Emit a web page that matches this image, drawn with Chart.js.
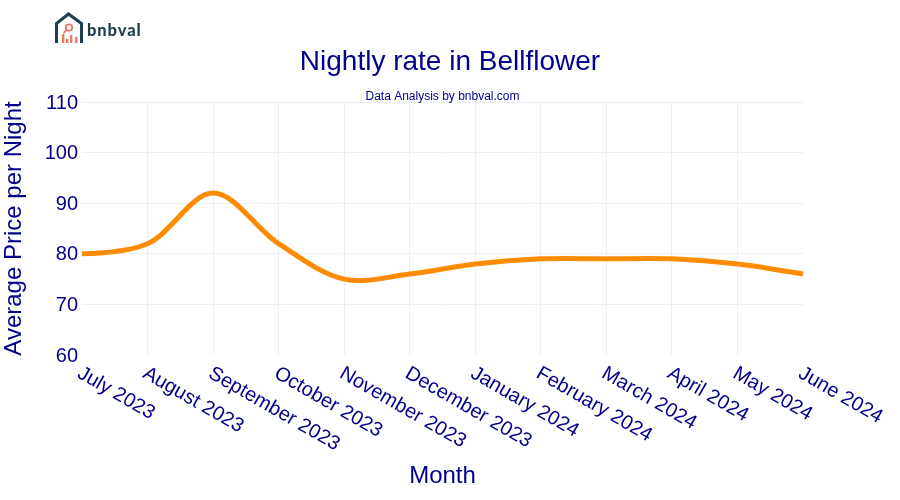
<!DOCTYPE html>
<html>
<head>
<meta charset="utf-8">
<script src="https://cdn.jsdelivr.net/npm/chart.js@4"></script>
<style>
    html, body { margin: 0; padding: 0; background: #fff; }
    #wrap { position: relative; width: 900px; height: 500px; }
    #logo { position: absolute; left: 53px; top: 12px; }
</style>
</head>
<body>
<div id="wrap">
    <canvas id="chartRate" width="900" height="500"></canvas>
    <svg id="logo" width="92" height="34" viewBox="0 0 92 34">
        <path d="M3.5 31 V11.5 L15.5 2 L28.5 11.5 V31" fill="none" stroke="#1f3f50" stroke-width="3"/>
        <circle cx="16" cy="15.5" r="3.2" fill="none" stroke="#ee7a63" stroke-width="1.8"/>
        <path d="M13.7 17.8 L10.5 21" stroke="#ee7a63" stroke-width="1.8"/>
        <rect x="9" y="22" width="2.4" height="9" fill="#ee7a63"/>
        <rect x="13" y="27" width="2.4" height="4" fill="#ee7a63"/>
        <rect x="17" y="23" width="2.4" height="8" fill="#ee7a63"/>
        <rect x="22" y="25" width="2.4" height="6" fill="#ee7a63"/>
        <text x="34" y="24" font-family="Lato" font-weight="900" font-size="16.5" letter-spacing="0.9" fill="#1f3f50">bnbval</text>
    </svg>
</div>
<script>
const months = ["July 2023", "August 2023", "September 2023", "October 2023", "November 2023", "December 2023", "January 2024", "February 2024", "March 2024", "April 2024", "May 2024", "June 2024"];
const avgPrice = [80, 82, 92, 82, 75, 76, 78, 79, 79, 79, 78, 76];
const yTicks = [60, 70, 80, 90, 100, 110];

const NAVY = "#00008b";
const FONT = "'Liberation Sans', Arial, sans-serif";
const GRID = "#ebf0f8";
const CLEAR = "rgba(0,0,0,0)";

// title is centered on the page, subtitle on the plot, and
// chart.js right-aligns rotated labels while here they hang down from the tick
const chartText = {
    id: "chartText",
    afterDraw(chart) {
        const ctx = chart.ctx;
        const area = chart.chartArea;
        const scale = chart.scales.x;
        ctx.save();
        ctx.fillStyle = NAVY;
        ctx.textBaseline = "middle";
        ctx.textAlign = "center";
        ctx.font = "28px " + FONT;
        ctx.fillText("Nightly rate in Bellflower", 450, 62);
        ctx.font = "12px " + FONT;
        ctx.fillText("Data Analysis by bnbval.com", (area.left + area.right) / 2, 97);
        ctx.textAlign = "right";
        ctx.font = "20px " + FONT;
        yTicks.forEach(v => {
            ctx.fillText(String(v), area.left - 4, chart.scales.y.getPixelForValue(v) + 1);
        });
        ctx.textAlign = "left";
        months.forEach((m, i) => {
            ctx.save();
            ctx.translate(scale.getPixelForTick(i) - 3, area.bottom + 17);
            ctx.rotate(30 * Math.PI / 180);
            ctx.fillText(m, 0, 0);
            ctx.restore();
        });
        ctx.restore();
    }
};

function makeTangent(prev, cur, next) {
    const d1x = prev.x - cur.x, d1y = prev.y - cur.y;
    const d2x = next.x - cur.x, d2y = next.y - cur.y;
    const d1a = Math.pow(d1x * d1x + d1y * d1y, 0.25);
    const d2a = Math.pow(d2x * d2x + d2y * d2y, 0.25);
    const numx = d2a * d2a * d1x - d1a * d1a * d2x;
    const numy = d2a * d2a * d1y - d1a * d1a * d2y;
    const denom1 = 3 * d2a * (d1a + d2a);
    const denom2 = 3 * d1a * (d1a + d2a);
    return {
        inX: cur.x + numx / denom1, inY: cur.y + numy / denom1,
        outX: cur.x - numx / denom2, outY: cur.y - numy / denom2
    };
}

// same curve shape as the original spline, ends are quadratic
const splineShape = {
    id: "splineShape",
    beforeDatasetDraw(chart, args) {
        const line = args.meta.dataset;
        const pts = args.meta.data;
        const last = pts.length - 1;
        line.updateControlPoints(chart.chartArea);
        for (let i = 1; i < last; i++) {
            const t = makeTangent(pts[i - 1], pts[i], pts[i + 1]);
            pts[i].cp1x = t.inX;
            pts[i].cp1y = t.inY;
            pts[i].cp2x = t.outX;
            pts[i].cp2y = t.outY;
        }
        pts[0].cp2x = pts[0].x + (pts[1].cp1x - pts[0].x) * 2 / 3;
        pts[0].cp2y = pts[0].y + (pts[1].cp1y - pts[0].y) * 2 / 3;
        pts[1].cp1x = pts[1].x + (pts[1].cp1x - pts[1].x) * 2 / 3;
        pts[1].cp1y = pts[1].y + (pts[1].cp1y - pts[1].y) * 2 / 3;
        const qx = pts[last - 1].cp2x, qy = pts[last - 1].cp2y;
        pts[last - 1].cp2x = pts[last - 1].x + (qx - pts[last - 1].x) * 2 / 3;
        pts[last - 1].cp2y = pts[last - 1].y + (qy - pts[last - 1].y) * 2 / 3;
        pts[last].cp1x = pts[last].x + (qx - pts[last].x) * 2 / 3;
        pts[last].cp1y = pts[last].y + (qy - pts[last].y) * 2 / 3;
    }
};

new Chart(
    document.getElementById("chartRate"),
    {
        type: "line",
        data: {
            labels: months,
            datasets: [{
                label: "Average Price per Night",
                data: avgPrice,
                borderColor: "#ff8c00",
                borderWidth: 5,
                tension: 0.4,
                pointRadius: 0,
                fill: false
            }]
        },
        options: {
            responsive: false,
            animation: false,
            layout: {
                autoPadding: false,
                padding: { top: 102, right: 97, bottom: 0, left: 0 }
            },
            plugins: {
                legend: { display: false },
                tooltip: { enabled: false }
            },
            scales: {
                x: {
                    offset: false,
                    afterFit(scale) { scale.height = 145; },
                    border: { display: false },
                    grid: {
                        color: ctx => ctx.index === 0 || ctx.index === months.length - 1 ? CLEAR : GRID,
                        drawTicks: false
                    },
                    ticks: { display: false, autoSkip: false },
                    title: {
                        display: true,
                        text: "Month",
                        color: NAVY,
                        font: { family: FONT, size: 24, weight: "normal" },
                        padding: { top: 0, bottom: 9 }
                    }
                },
                y: {
                    min: 60,
                    max: 110,
                    afterFit(scale) { scale.width = 82; },
                    afterBuildTicks(scale) { scale.ticks = yTicks.map(v => ({ value: v })); },
                    border: { display: false },
                    grid: {
                        color: ctx => ctx.tick && ctx.tick.value === 60 ? CLEAR : GRID,
                        drawTicks: false
                    },
                    ticks: { display: false },
                    title: {
                        display: true,
                        text: "Average Price per Night",
                        color: NAVY,
                        font: { family: FONT, size: 24, weight: "normal" },
                        padding: { top: 0, bottom: 0 }
                    }
                }
            }
        },
        plugins: [splineShape, chartText]
    }
);
</script>
</body>
</html>
